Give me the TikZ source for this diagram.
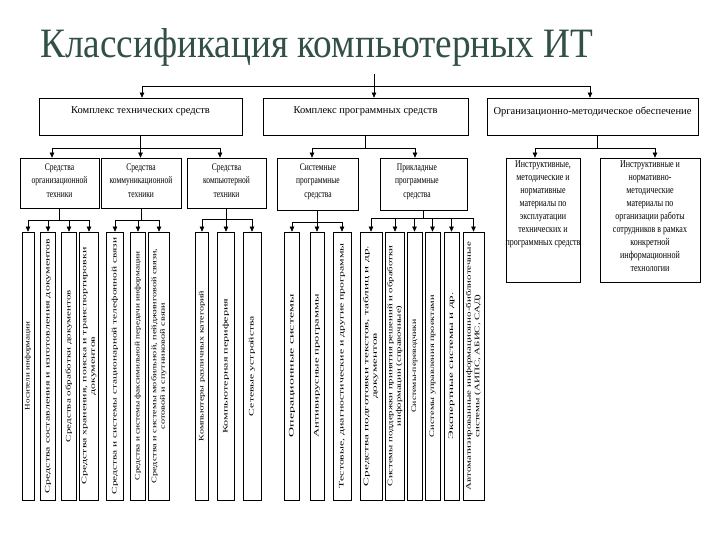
\documentclass[tikz,border=0pt]{standalone}
\usepackage{fontspec}
\setmainfont{Liberation Serif}
\usepackage{graphicx}
\usetikzlibrary{arrows.meta,fit}
\definecolor{titlecol}{RGB}{50,80,70}
\newcommand\lvtext[2]{\resizebox{#1pt}{\height}{\begin{tabular}{@{}c@{}}#2\end{tabular}}}
\newcommand\htext[2]{\scalebox{1}[#1]{\begin{tabular}{@{}c@{}}#2\end{tabular}}}
\newcommand\leafnode[5]{%
  \node[bx, minimum width=#3pt, minimum height=268pt] (#1) at (#2,366) {};
  \node[leaftext] (#1t) at (#2,366) {\lvtext{#4}{#5}};}
\begin{document}
\begin{tikzpicture}[x=1pt,y=-1pt,
  bx/.style={draw, line width=0.7pt, inner sep=0pt},
  arr/.style={line width=0.7pt, -{Triangle[length=5pt,width=4.5pt]}},
  ln/.style={line width=0.7pt},
  toptext/.style={font=\fontsize{10.5}{12}\selectfont, inner sep=0pt},
  midtext/.style={font=\fontsize{7.5}{10}\selectfont, inner sep=0pt},
  ctext/.style={font=\fontsize{8}{10}\selectfont, inner sep=0pt},
  leaftext/.style={font=\fontsize{7}{8.5}\selectfont, inner sep=0pt, rotate=90},
]
\useasboundingbox (0,0) rectangle (720,540);
\fill[white] (0,0) rectangle (720,540);

\node[anchor=base west, text=titlecol, font=\fontsize{38}{40}\selectfont, inner sep=0pt] (title) at (40,58) {\scalebox{0.98}[1.1]{Классификация компьютерных ИТ}};

% level 1
\node[bx, fit={(39,98) (242,135)}] (T1) {};
\node[toptext] (T1l) at (140.5,111) {Комплекс технических средств};
\node[bx, fit={(263,98) (468,135)}] (T2) {};
\node[toptext] (T2l) at (365.5,111) {Комплекс программных средств};
\node[bx, fit={(487,98) (698,135)}] (T3) {};
\node[toptext] (T3l) at (592.5,112) {Организационно-методическое обеспечение};

\coordinate (tstub) at (374,74);
\coordinate (tk) at (374,86);
\draw[ln] (tstub) -- (tk);
\draw[arr] (tk) -| ([xshift=1.5pt]T1.north);
\draw[arr] (tk) -- (tk |- T2.north);
\draw[arr] (tk) -| ([xshift=-2.5pt]T3.north);

% level 2
\node[bx, fit={(20,158) (99,208)}] (A1) {};
\node[midtext] (A1l) at (59.5,181) {\htext{1.35}{Средства\\организационной\\техники}};
\node[bx, fit={(101,158) (181,208)}] (A2) {};
\node[midtext] (A2l) at (141,181) {\htext{1.35}{Средства\\коммуникационной\\техники}};
\node[bx, fit={(187,158) (266,208)}] (A3) {};
\node[midtext] (A3l) at (226.5,181) {\htext{1.35}{Средства\\компьютерной\\техники}};
\node[bx, fit={(277,158) (358,210)}] (B1) {};
\node[midtext] (B1l) at (318,181) {\htext{1.35}{Системные\\программные\\средства}};
\node[bx, fit={(380,158) (467,210)}] (B2) {};
\node[midtext] (B2l) at (417,181) {\htext{1.35}{Прикладные\\программные\\средства}};
\node[bx, fit={(506,158) (580,282)}] (C1) {};
\node[ctext] (C1l) at (543,204) {\htext{1.3}{Инструктивные,\\методические и\\нормативные\\материалы по\\эксплуатации\\технических и\\программных средств}};
\node[bx, fit={(600,158) (700,282)}] (C2) {};
\node[ctext] (C2l) at (650,217) {\htext{1.3}{Инструктивные и\\нормативно-\\методические\\материалы по\\организации работы\\сотрудников в рамках\\конкретной\\информационной\\технологии}};

\draw[ln] (T1.south) -- ++(0,13) coordinate (k1);
\draw[arr] (k1) -| ([xshift=-7.5pt]A1.north);
\draw[arr] (k1) -- (k1 |- A2.north);
\draw[arr] (k1) -| ([xshift=-6.5pt]A3.north);
\draw[ln] (T2.south) -- ++(0,13) coordinate (k2);
\draw[arr] (k2) -| ([xshift=-5.5pt]B1.north);
\draw[arr] (k2) -| ([xshift=-8.5pt]B2.north);
\draw[ln] ([xshift=4.5pt]T3.south) -- ++(0,13) coordinate (k3);
\draw[arr] (k3) -| ([xshift=-8pt]C1.north);
\draw[arr] (k3) -| ([xshift=5pt]C2.north);

% leaves
\leafnode{L1}{28}{12}{88}{Носители информации}
\leafnode{L2}{48}{15}{255}{Средства составления и изготовления документов}
\leafnode{L3}{69}{15}{152}{Средства обработки документов}
\leafnode{L4}{89}{19}{237}{Средства хранения, поиска и транспортировки\\документов}
\leafnode{L5}{115}{17}{257}{Средства и системы стационарной телефонной связи}
\leafnode{L6}{138}{15}{228}{Средства и системы факсимильной передачи информации}
\leafnode{L7}{159}{21}{235}{Средства и системы мобильной, пейджинговой связи,\\сотовой и спутниковой связи}
\leafnode{L8}{202}{13}{150}{Компьютеры различных категорий}
\leafnode{L9}{226}{17}{135}{Компьютерная периферия}
\leafnode{L10}{252}{18}{100}{Сетевые устройства}
\leafnode{L11}{292}{15}{143}{Операционные системы}
\leafnode{L12}{317}{14}{143}{Антивирусные программы}
\leafnode{L13}{342}{18}{245}{Тестовые, диагностические и другие программы}
\leafnode{L14}{371}{22}{240}{Средства подготовки текстов, таблиц и др.\\документов}
\leafnode{L15}{395}{19}{240}{Системы поддержки принятия решений и обработки\\информации (справочные)}
\leafnode{L16}{414.5}{15}{93}{Системы-переводчики}
\leafnode{L17}{432.5}{15}{142}{Системы управления проектами}
\leafnode{L18}{451.5}{15}{147}{Экспертные системы и др.}
\leafnode{L19}{473.5}{21}{248}{Автоматизированные информационно-библиотечные\\системы (АИПС, АБИС, САД)}

\draw[ln] (A1.south) -- ++(0,12) coordinate (a1k);
\foreach \n in {L1,L2,L3,L4} \draw[arr] (a1k) -| (\n.north);
\draw[ln] (A2.south) -- ++(0,12) coordinate (a2k);
\foreach \n in {L5,L6,L7} \draw[arr] (a2k) -| (\n.north);
\draw[ln] (A3.south) -- ++(0,11) coordinate (a3k);
\foreach \n in {L8,L9,L10} \draw[arr] (a3k) -| (\n.north);
\draw[ln] (B1.south) -- ++(0,12) coordinate (b1k);
\foreach \n in {L11,L12,L13} \draw[arr] (b1k) -| (\n.north);
\draw[ln] ([xshift=-0.5pt]B2.south) -- ++(0,8) coordinate (b2k);
\foreach \n in {L14,L15,L16,L17,L18,L19} \draw[arr] (b2k) -| (\n.north);
\end{tikzpicture}
\end{document}
